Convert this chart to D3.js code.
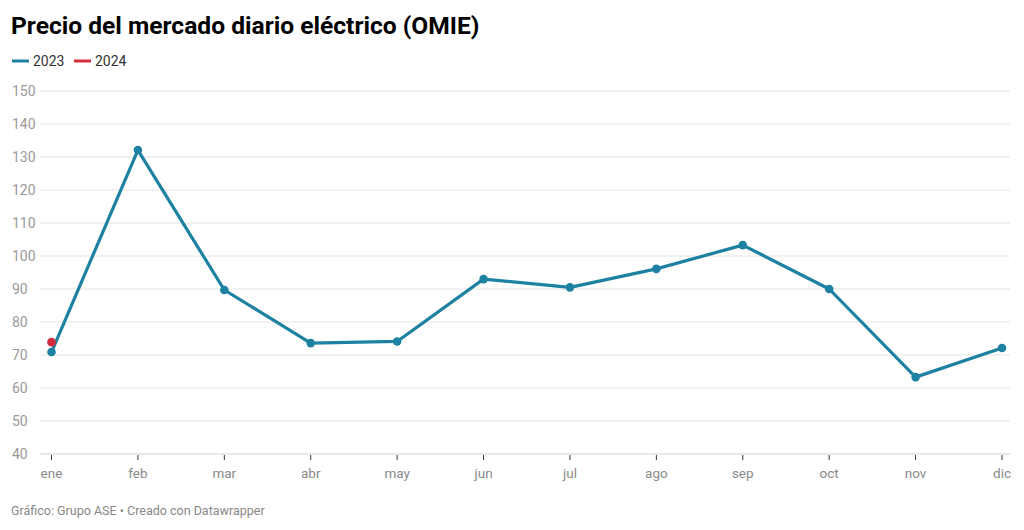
<!DOCTYPE html>
<html><head><meta charset="utf-8">
<script src="https://cdn.jsdelivr.net/npm/d3@7"></script>
<style>body{margin:0;background:#fff;font-family:Roboto,sans-serif;}</style>
</head><body><svg id="c" width="1024" height="530"></svg>
<script>
const months = ["ene","feb","mar","abr","may","jun","jul","ago","sep","oct","nov","dic"];
const values2023 = [70.9,132.1,89.7,73.6,74.1,93.0,90.5,96.1,103.3,90.0,63.3,72.1];
const values2024 = [73.9];
const yTicks = [40,50,60,70,80,90,100,110,120,130,140,150];
const seriesNames = ["2023","2024"];
const colors = ["#1d81a2","#d52d3e"];

const svg = d3.select("#c");
const x = d3.scalePoint().domain(months).range([51.5,1002]);
const y = d3.scaleLinear().domain([40,150]).range([454,91]);

svg.append("text").attr("x",11).attr("y",34).attr("font-size",24.6).attr("font-weight",700).attr("fill","#000").text("Precio del mercado diario eléctrico (OMIE)");

const leg = svg.append("g");
let lx = 12;
seriesNames.forEach((n,i)=>{
  leg.append("line").attr("x1",lx).attr("x2",lx+17).attr("y1",61).attr("y2",61).attr("stroke",colors[i]).attr("stroke-width",3);
  leg.append("text").attr("x",lx+21).attr("y",66).attr("font-size",14).attr("fill","#333").text(n);
  lx += 62;
});

const grid = svg.append("g");
yTicks.forEach(t=>{
  grid.append("line").attr("x1",40).attr("x2",1010).attr("y1",y(t)).attr("y2",y(t)).attr("stroke",t===40?"#d0d0d0":"#e4e4e4").attr("stroke-width",1);
  grid.append("text").attr("x",12).attr("y",y(t)+5).attr("font-size",14).attr("fill","#9a9a9a").text(t);
});

const xa = svg.append("g");
months.forEach(m=>{
  xa.append("line").attr("x1",x(m)).attr("x2",x(m)).attr("y1",455).attr("y2",460).attr("stroke","#333").attr("stroke-width",1);
  xa.append("text").attr("x",x(m)).attr("y",478).attr("text-anchor","middle").attr("font-size",13.5).attr("fill","#8a8a8a").text(m);
});

const line = d3.line().x((d,i)=>x(months[i])).y(d=>y(d));
svg.append("path").datum(values2023).attr("d",line).attr("fill","none").attr("stroke",colors[0]).attr("stroke-width",3.2).attr("stroke-linejoin","round");
svg.selectAll(".d23").data(values2023).enter().append("circle").attr("cx",(d,i)=>x(months[i])).attr("cy",d=>y(d)).attr("r",4.3).attr("fill",colors[0]);
svg.selectAll(".d24").data(values2024).enter().append("circle").attr("cx",(d,i)=>x(months[i])).attr("cy",d=>y(d)).attr("r",4.3).attr("fill",colors[1]);

svg.append("text").attr("x",11).attr("y",515).attr("font-size",12.5).attr("fill","#888").text("Gráfico: Grupo ASE • Creado con Datawrapper");
</script></body></html>
